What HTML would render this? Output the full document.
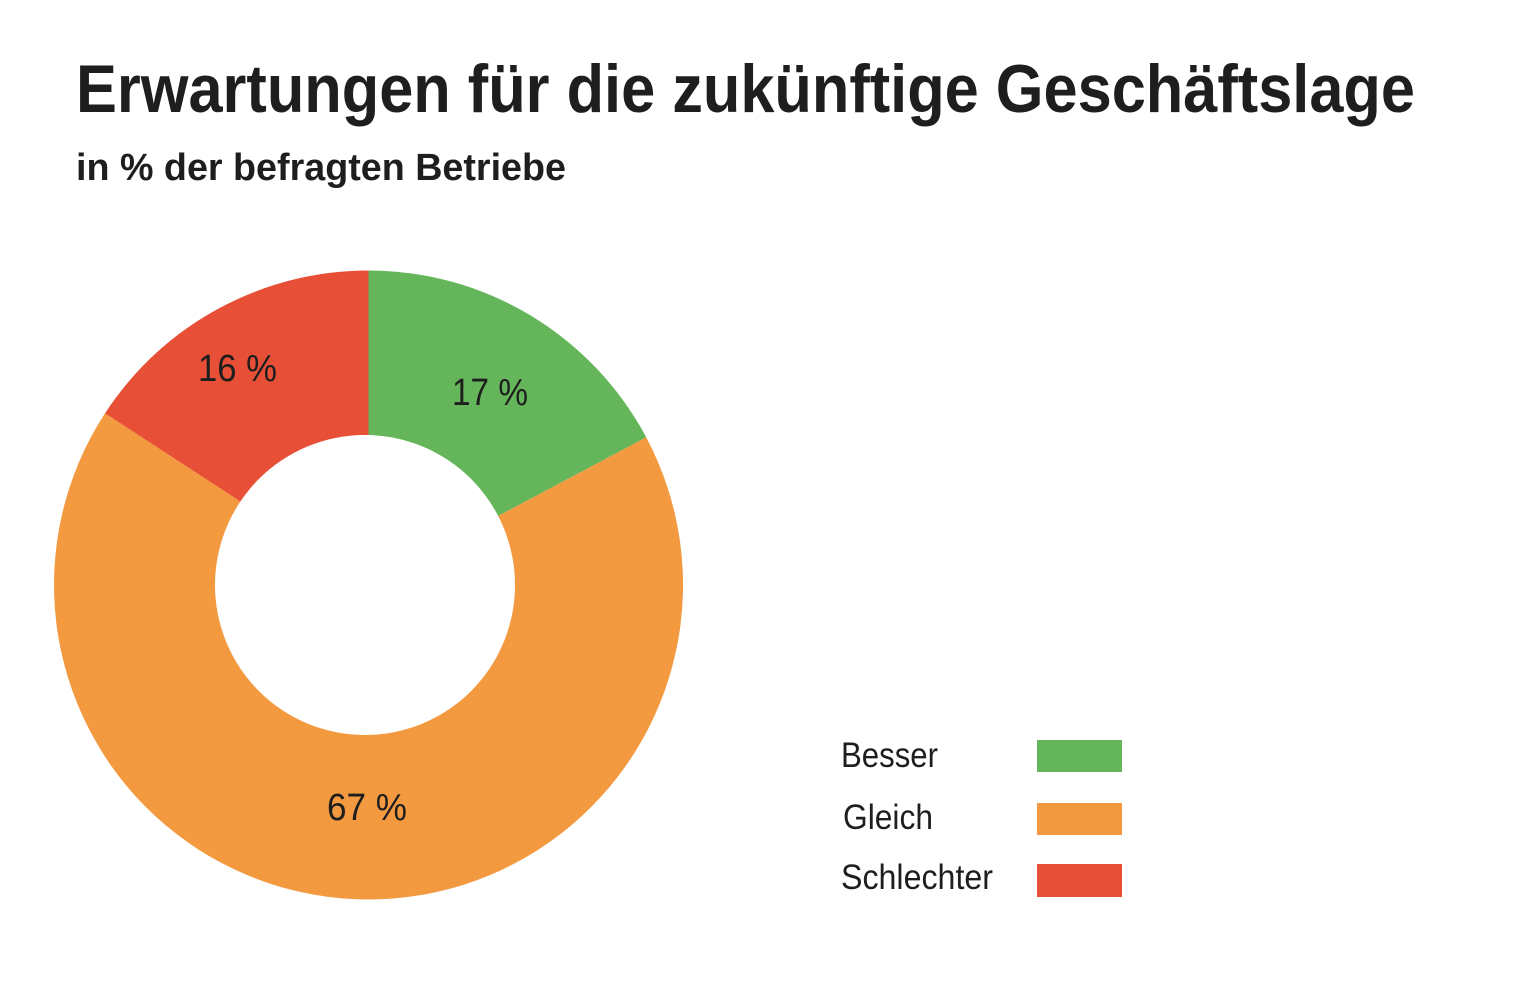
<!DOCTYPE html>
<html>
<head>
<meta charset="utf-8">
<style>
html,body{margin:0;padding:0;background:#fff;}
svg{display:block;}
text{font-family:"Liberation Sans",sans-serif;fill:#1e1e1e;}
</style>
</head>
<body>
<svg width="1520" height="997" viewBox="0 0 1520 997" xmlns="http://www.w3.org/2000/svg">
<rect width="1520" height="997" fill="#fff"/>
<text x="76" y="112" font-size="68" font-weight="bold" textLength="1339" lengthAdjust="spacingAndGlyphs">Erwartungen für die zukünftige Geschäftslage</text>
<text x="76" y="180" font-size="38" font-weight="bold" textLength="490" lengthAdjust="spacingAndGlyphs">in % der befragten Betriebe</text>

<path d="M368.5,270.5 A314.5,314.5 0 0 1 646.2,437.3 L368.5,585 Z" fill="#65b65b"/>
<path d="M646.2,437.3 A314.5,314.5 0 1 1 105,413.3 L368.5,585 Z" fill="#f39a41"/>
<path d="M105,413.3 A314.5,314.5 0 0 1 368.5,270.5 L368.5,585 Z" fill="#e75036"/>
<circle cx="365" cy="585" r="150" fill="#fff"/>

<text x="198" y="381" font-size="38" textLength="79" lengthAdjust="spacingAndGlyphs">16 %</text>
<text x="452" y="405" font-size="38" textLength="76" lengthAdjust="spacingAndGlyphs">17 %</text>
<text x="327" y="820" font-size="38" textLength="80" lengthAdjust="spacingAndGlyphs">67 %</text>

<text x="841" y="767" font-size="35" textLength="97" lengthAdjust="spacingAndGlyphs">Besser</text>
<text x="843" y="829" font-size="35" textLength="90" lengthAdjust="spacingAndGlyphs">Gleich</text>
<text x="841" y="889" font-size="35" textLength="152" lengthAdjust="spacingAndGlyphs">Schlechter</text>

<rect x="1037" y="740" width="85" height="32" fill="#65b65b"/>
<rect x="1037" y="803" width="85" height="32" fill="#f39a41"/>
<rect x="1037" y="864" width="85" height="33" fill="#e75036"/>
</svg>
</body>
</html>
